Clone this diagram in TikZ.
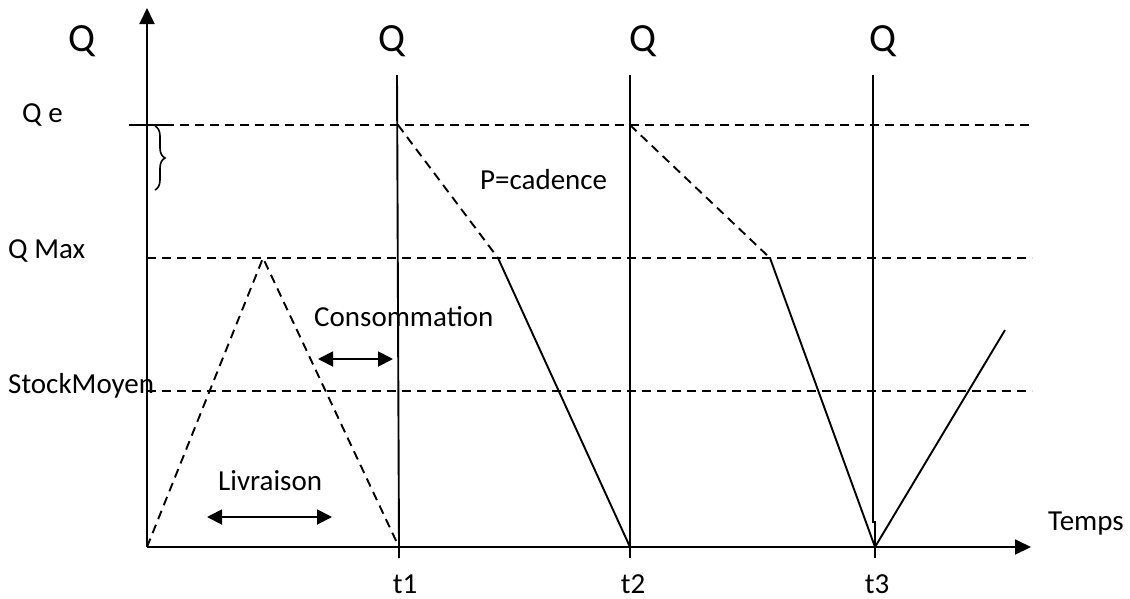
\documentclass[tikz,border=0pt]{standalone}
\usepackage{fontspec}
\setmainfont{Carlito}
\usetikzlibrary{arrows.meta,decorations.pathreplacing}
\begin{document}
\begin{tikzpicture}[x=1pt,y=-1pt,
  ln/.style={line width=1.9pt, line cap=butt},
  dsh/.style={ln, dash pattern=on 9pt off 6pt},
  axarrow/.style={ln,-{Triangle[length=16pt,width=15pt]}},
  dbl/.style={ln,{Triangle[length=15pt,width=15pt]}-{Triangle[length=15pt,width=15pt]}},
  small/.style={font=\fontsize{29}{34}\selectfont, inner sep=0pt, anchor=base west},
  big/.style={font=\fontsize{40}{46}\selectfont, inner sep=0pt, anchor=base}]
\useasboundingbox (0,0) rectangle (1130,598);
% key coordinates
\coordinate (O) at (147,547);
\coordinate (ytop) at (147,8);
\coordinate (xend) at (1031,547);
\coordinate (qeL) at (129,125);
\coordinate (qeR) at (1032,125);
\coordinate (qmL) at (147,258);
\coordinate (qmR) at (1032,258);
\coordinate (smL) at (147,391);
\coordinate (smR) at (1032,391);
\coordinate (peak) at (263,258);
\coordinate (t1top) at (397,75);
\coordinate (t1bot) at (399,547);
\coordinate (t1tick) at (399,558);
\coordinate (t2top) at (630,75);
\coordinate (t2bot) at (630,547);
\coordinate (t2tick) at (630,558);
\coordinate (t3top) at (873,75);
\coordinate (t3mid) at (873,522);
\coordinate (t3jog) at (875,522);
\coordinate (t3bot) at (875,547);
\coordinate (t3tick) at (875,558);
\coordinate (qe1) at (398,125);
\coordinate (qm1) at (498,258);
\coordinate (qe2) at (630,125);
\coordinate (qm2) at (770,258);
\coordinate (endpt) at (1005,330);
\coordinate (liv1) at (207,517);
\coordinate (liv2) at (332,517);
\coordinate (con1) at (318,359);
\coordinate (con2) at (393,359);
\coordinate (brA) at (155,126);
\coordinate (brB) at (155,190);
% axes
\draw[axarrow] (O) -- (ytop);
\draw[axarrow] (O) -- (xend);
% Qe
\draw[ln] (qeL) -- (165,125);
\draw[dsh] (165,125) -- (qeR);
\draw[ln, line width=1.6pt, decorate, decoration={brace, amplitude=10pt}] (brA) -- (brB);
% horizontal dashed
\draw[dsh] (qmL) -- (qmR);
\draw[dsh] (smL) -- (smR);
% triangle
\draw[dsh] (O) -- (peak) -- (t1bot);
% verticals
\draw[ln] (t1top) -- (t1bot) -- (t1tick);
\draw[ln] (t2top) -- (t2tick);
\draw[ln] (t3top) -- (t3mid) -- (t3jog) -- (t3tick);
% cycles
\draw[dsh] (qe1) -- (qm1);
\draw[ln] (qm1) -- (t2bot);
\draw[dsh] (qe2) -- (qm2);
\draw[ln] (qm2) -- (t3bot);
\draw[ln] (t3bot) -- (endpt);
% double arrows
\draw[dbl] (liv1) -- (liv2);
\draw[dbl] (con1) -- (con2);
% labels
\node[big] (Q0) at (82,51) {Q};
\node[big] (Q1) at (392,51) {Q};
\node[big] (Q2) at (643,51) {Q};
\node[big] (Q3) at (883,51) {Q};
\node[small] (lqe) at (22,122) {Q e};
\node[small] (lqm) at (8,258) {Q Max};
\node[small] (lsm) at (8,393) {StockMoyen};
\node[small] (lcons) at (314,326) {Consommation};
\node[small] (lpc) at (480,189) {P=cadence};
\node[small] (lliv) at (218,490) {Livraison};
\node[small] (ltemps) at (1048,530) {Temps};
\node[small, anchor=base] (lt1) at (405,593) {t1};
\node[small, anchor=base] (lt2) at (633,593) {t2};
\node[small, anchor=base] (lt3) at (877,593) {t3};
\end{tikzpicture}
\end{document}
